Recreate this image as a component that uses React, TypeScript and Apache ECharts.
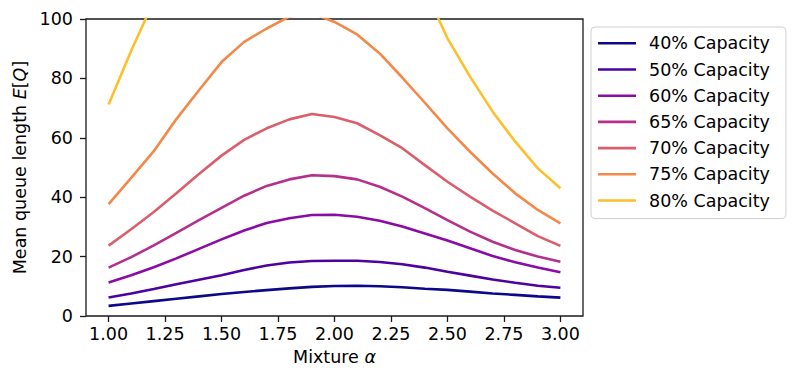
import React, { useEffect, useRef } from "react";
import * as echarts from "echarts";

const alpha = [1.0, 1.1, 1.2, 1.3, 1.4, 1.5, 1.6, 1.7, 1.8, 1.9, 2.0, 2.1, 2.2, 2.3, 2.4, 2.5, 2.6, 2.7, 2.8, 2.9, 3.0];

const cap40 = [3.4, 4.2, 5.0, 5.8, 6.6, 7.4, 8.1, 8.7, 9.3, 9.8, 10.1, 10.2, 10.0, 9.7, 9.2, 8.8, 8.2, 7.6, 7.1, 6.6, 6.2];
const cap50 = [6.2, 7.6, 9.1, 10.7, 12.2, 13.7, 15.5, 17.0, 18.0, 18.5, 18.6, 18.6, 18.2, 17.4, 16.3, 14.9, 13.6, 12.3, 11.2, 10.2, 9.5];
const cap60 = [11.3, 13.7, 16.4, 19.4, 22.6, 25.8, 28.8, 31.3, 32.9, 34.0, 34.1, 33.4, 32.1, 30.1, 27.8, 25.4, 22.8, 20.2, 18.1, 16.3, 14.7];
const cap65 = [16.3, 19.8, 23.8, 28.0, 32.3, 36.4, 40.5, 43.8, 46.0, 47.4, 47.1, 46.0, 43.5, 40.2, 36.3, 32.3, 28.4, 25.0, 22.2, 20.0, 18.3];
const cap70 = [23.7, 29.2, 35.0, 41.3, 47.8, 54.0, 59.3, 63.2, 66.2, 68.0, 67.0, 64.9, 60.9, 56.5, 50.8, 45.2, 40.2, 35.5, 31.2, 26.9, 23.6];
const cap75 = [37.7, 46.5, 55.5, 66.3, 76.0, 85.5, 92.3, 96.8, 100.8, 102.0, 99.0, 94.8, 88.4, 80.3, 71.8, 63.2, 55.3, 48.0, 41.3, 35.7, 31.2];
const cap80 = [71.2, 89.3, 106, 120, 131, 140, 147, 152, 155, 156, 154, 149, 140, 127, 110, 93.5, 80.6, 68.8, 58.7, 49.7, 43.0];

const seriesNames = ["40% Capacity", "50% Capacity", "60% Capacity", "65% Capacity", "70% Capacity", "75% Capacity", "80% Capacity"];
const seriesValues = [cap40, cap50, cap60, cap65, cap70, cap75, cap80];
const seriesColors = ["#0d0887", "#4c02a1", "#8a0ba5", "#b52f8c", "#db5e6b", "#f48849", "#fdbf2a"];

const xTicks = [1.0, 1.25, 1.5, 1.75, 2.0, 2.25, 2.5, 2.75, 3.0];
const yTicks = [0, 20, 40, 60, 80, 100];

const FONT = "DejaVu Sans";
const FS = 17.5;

export default function App() {
  const ref = useRef<HTMLDivElement>(null);
  useEffect(() => {
    if (!ref.current) return;
    const chart = echarts.init(ref.current, null, { renderer: "svg" });
    const option = {
      animation: false,
      backgroundColor: "#ffffff",
      textStyle: { fontFamily: FONT },
      grid: {
        left: 86,
        top: 19,
        right: 209,
        bottom: 67,
        show: true,
        borderColor: "#1a1a1a",
        borderWidth: 1.3,
        backgroundColor: "transparent",
      },
      legend: {
        orient: "vertical",
        left: 591,
        top: 27,
        padding: [7.2, 16, 9, 7],
        icon: "rect",
        itemWidth: 38,
        itemHeight: 2.6,
        itemGap: 8,
        backgroundColor: "#ffffff",
        borderColor: "#d0d0d0",
        borderWidth: 1,
        borderRadius: 4,
        data: seriesNames,
        textStyle: {
          fontFamily: FONT,
          fontSize: FS,
          color: "#000",
          lineHeight: 18.2,
          padding: [0, 0, 0, 8],
        },
      },
      xAxis: {
        type: "value",
        min: 0.9,
        max: 3.1,
        name: "Mixture {i|α}",
        nameLocation: "middle",
        nameGap: 32,
        nameTextStyle: {
          fontFamily: FONT,
          fontSize: FS,
          color: "#000",
          rich: { i: { fontFamily: FONT, fontSize: FS, fontStyle: "italic", color: "#000" } },
        },
        axisLine: { show: false },
        splitLine: { show: false },
        axisTick: {
          show: true,
          length: 6,
          lineStyle: { color: "#1a1a1a", width: 1.3 },
          customValues: xTicks,
        },
        axisLabel: {
          fontFamily: FONT,
          fontSize: FS,
          color: "#000",
          margin: 9,
          customValues: xTicks,
          formatter: (v: number) => v.toFixed(2),
        },
      },
      yAxis: {
        type: "value",
        min: 0,
        max: 100,
        interval: 20,
        name: "Mean queue length {i|E}[{i|Q}]",
        nameLocation: "middle",
        nameRotate: 90,
        nameGap: 57,
        nameTextStyle: {
          fontFamily: FONT,
          fontSize: FS,
          color: "#000",
          rich: { i: { fontFamily: FONT, fontSize: FS, fontStyle: "italic", color: "#000" } },
        },
        axisLine: { show: false },
        splitLine: { show: false },
        axisTick: { show: true, length: 6, lineStyle: { color: "#1a1a1a", width: 1.3 } },
        axisLabel: {
          fontFamily: FONT,
          fontSize: FS,
          color: "#000",
          margin: 13,
          customValues: yTicks,
        },
      },
      series: seriesNames.map((name, i) => ({
        name,
        type: "line",
        symbol: "none",
        clip: true,
        data: alpha.map((a, j) => [a, seriesValues[i][j]]),
        lineStyle: { color: seriesColors[i], width: 2.6 },
        itemStyle: { color: seriesColors[i] },
      })),
    };
    chart.setOption(option as any);
    return () => chart.dispose();
  }, []);
  return (
    <div
      ref={ref}
      style={{ position: "fixed", left: 0, top: 0, width: 792, height: 383, background: "#fff" }}
    />
  );
}
